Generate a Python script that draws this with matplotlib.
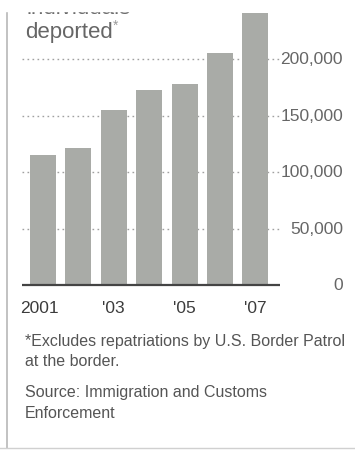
import matplotlib.pyplot as plt
from matplotlib.transforms import blended_transform_factory

years = ['2001', '2002', '2003', '2004', '2005', '2006', '2007']
year_labels = ['2001', '', "'03", '', "'05", '', "'07"]
deported = [115000, 121000, 155000, 172500, 178000, 205000, 240500]
grid_values = [50000, 100000, 150000, 200000]
tick_text = ['0', '50,000', '100,000', '150,000', '200,000']

W, H = 355, 452
fig = plt.figure(figsize=(W / 100, H / 100), dpi=100)
fig.patch.set_facecolor('white')

FONT = ['Liberation Sans', 'DejaVu Sans']
TXT = '#555555'
BAR = '#a9aba7'

# axes placed in pixel space: left 22, right 282, bottom at y=286 from top
ax = fig.add_axes([22 / W, (H - 286) / H, 260 / W, 286 / H])
ax.set_xlim(-0.593, (282 - 43) / 35.4)
ax.set_ylim(0, 286 / 56.5 * 50000)
ax.axis('off')

x = list(range(len(years)))
for v in grid_values:
    ax.axhline(v, color='#a0a0a0', lw=1.0, ls=(0, (1.2, 2.4)), zorder=1)
ax.bar(x, deported, width=0.73, color=BAR, zorder=2)
ax.plot([-0.593, (280 - 43) / 35.4], [0, 0], color='#444444', lw=1.6,
        solid_capstyle='butt', zorder=3, clip_on=False)

# value labels on the right
tr = blended_transform_factory(fig.transFigure, ax.transData)
for v, t in zip([0] + grid_values, tick_text):
    ax.text(343 / W, v, t, transform=tr, ha='right', va='center',
            fontsize=12.5, color='#666666', family=FONT)

# year labels under the bars
for i, lab in enumerate(year_labels):
    if lab:
        xpos = i - 0.1 if i == 0 else i
        ax.text(xpos, -19500, lab, ha='center', va='center', fontsize=12.5,
                color='#3c3c3c', family=FONT)

# title, the first line running off the top
fig.text(27 / W, 1 - 14 / H, 'individuals', ha='left', va='baseline',
         fontsize=16, color='#6b6b6b', family=FONT)
fig.add_artist(plt.Rectangle((0, 1 - 11.5 / H), 1, 11.5 / H, transform=fig.transFigure,
                             color='white', zorder=5))
fig.text(25 / W, 1 - 38 / H, 'deported', ha='left', va='baseline',
         fontsize=16, color='#666666', family=FONT)
fig.text(113 / W, 1 - 30 / H, '*', ha='left', va='baseline',
         fontsize=10, color='#9a9a9a', family=FONT)

notes = [
    (25, 346, '*Excludes repatriations by U.S. Border Patrol'),
    (25, 366, 'at the border.'),
    (25, 397, 'Source: Immigration and Customs'),
    (25, 418, 'Enforcement'),
]
for px, py, s in notes:
    fig.text(px / W, 1 - py / H, s, ha='left', va='baseline',
             fontsize=11.5, color=TXT, family=FONT)

# panel frame: left rule and bottom rule
fig.add_artist(plt.Line2D([7 / W, 7 / W], [1 - 449 / H, 1], color='#b8b8b8', lw=1.2))
fig.add_artist(plt.Line2D([0, 1], [1 - 449 / H, 1 - 449 / H], color='#d0d0d0', lw=1.0))

fig.savefig('out.png', dpi=100)
